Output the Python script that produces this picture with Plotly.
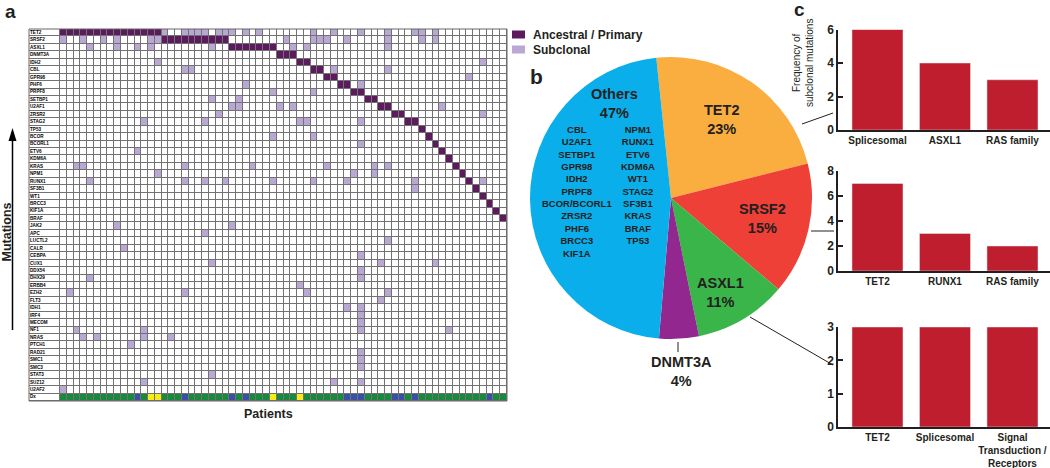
import plotly.graph_objects as go

W, H = 1050, 468
FONT = "Liberation Sans, Arial, Helvetica, sans-serif"
INK = "#231F20"


def px(x):
    return x / W


def py(y):
    return 1 - y / H


# ---------------- data ----------------
genes = ["TET2", "SRSF2", "ASXL1", "DNMT3A", "IDH2", "CBL", "GPR98", "PHF6", "PRPF8",
         "SETBP1", "U2AF1", "ZRSR2", "STAG2", "TP53", "BCOR", "BCORL1", "ETV6", "KDM6A",
         "KRAS", "NPM1", "RUNX1", "SF3B1", "WT1", "BRCC3", "KIF1A", "BRAF", "JAK2", "APC",
         "LUCTL2", "CALR", "CEBPA", "CUX1", "DDX54", "DHX29", "ERBB4", "EZH2", "FLT3",
         "IDH1", "IRF4", "MECOM", "NF1", "NRAS", "PTCH1", "RAD21", "SMC1", "SMC3",
         "STAT3", "SUZ12", "U2AF2"]

# number of patients whose ancestral (primary) lesion is each gene, in patient order
ancestral_counts = [15, 10, 7, 3, 2, 2, 2, 2, 2, 2, 2, 2, 2, 1, 1, 1, 1, 1, 1, 1, 1,
                    1, 1, 1, 1, 1] + [0] * 23

# patient indices carrying a subclonal mutation in each gene
subclonal_cols = [
    [15, 18, 19, 20, 21, 23, 24, 25, 27, 29, 37, 40, 44, 48, 52, 53, 55],  # TET2
    [0, 3, 6, 8, 13, 14, 33, 37, 38, 39, 42, 48, 53, 55],                   # SRSF2
    [4, 8, 11, 13, 22, 34, 36, 48],                                         # ASXL1
    [],                                                                     # DNMT3A
    [14, 62],                                                               # IDH2
    [18, 19, 40, 48],                                                       # CBL
    [60],                                                                   # GPR98
    [27, 44],                                                               # PHF6
    [31, 37],                                                               # PRPF8
    [22, 26],                                                               # SETBP1
    [25, 26, 32, 34, 56],                                                   # U2AF1
    [23, 62],                                                               # ZRSR2
    [12, 21, 35, 36, 44],                                                   # STAG2
    [],                                                                     # TP53
    [31, 37],                                                               # BCOR
    [44],                                                                   # BCORL1
    [11],                                                                   # ETV6
    [],                                                                     # KDM6A
    [2, 3, 18, 28, 39, 46, 48],                                             # KRAS
    [14, 43, 46],                                                           # NPM1
    [4, 18, 21, 24, 31, 37, 42, 52, 62],                                    # RUNX1
    [52],                                                                   # SF3B1
    [], [], [], [],                                                         # WT1 BRCC3 KIF1A BRAF
    [8, 25],                                                                # JAK2
    [21],                                                                   # APC
    [48],                                                                   # LUCTL2
    [9],                                                                    # CALR
    [44],                                                                   # CEBPA
    [22, 47, 55],                                                           # CUX1
    [44],                                                                   # DDX54
    [4, 44],                                                                # DHX29
    [35],                                                                   # ERBB4
    [1, 18, 36, 48],                                                        # EZH2
    [47],                                                                   # FLT3
    [42, 44],                                                               # IDH1
    [44],                                                                   # IRF4
    [44],                                                                   # MECOM
    [2, 12, 44, 57],                                                        # NF1
    [3, 5, 12, 16],                                                         # NRAS
    [10],                                                                   # PTCH1
    [44],                                                                   # RAD21
    [44],                                                                   # SMC1
    [44],                                                                   # SMC3
    [22],                                                                   # STAT3
    [12, 40, 44],                                                           # SUZ12
    [0],                                                                    # U2AF2
]

n_patients = 66
dx_blue = [11, 18, 25, 27, 42, 43, 44, 49, 50, 52, 63]
dx_yellow = [13, 14, 31, 35]

pie_labels = ["TET2", "SRSF2", "ASXL1", "DNMT3A", "Others"]
pie_pct_text = ["23%", "15%", "11%", "4%", "47%"]
others_left = ["CBL", "U2AF1", "SETBP1", "GPR98", "IDH2", "PRPF8", "BCOR/BCORL1",
               "ZRSR2", "PHF6", "BRCC3", "KIF1A"]
others_right = ["NPM1", "RUNX1", "ETV6", "KDM6A", "WT1", "STAG2", "SF3B1", "KRAS",
                "BRAF", "TP53"]

bar1_cats = ["Splicesomal", "ASXL1", "RAS family"]
bar1_vals = [6, 4, 3]
bar2_cats = ["TET2", "RUNX1", "RAS family"]
bar2_vals = [7, 3, 2]
bar3_cats = ["TET2", "Splicesomal", "Signal<br>Transduction /<br>Receptors"]
bar3_vals = [3, 3, 3]

# ---------------- build matrix ----------------
n_rows = len(genes) + 1
z = [[0] * (n_patients + 1) for _ in range(n_rows)]
col = 0
for g, cnt in enumerate(ancestral_counts):
    for _ in range(cnt):
        z[g][col + 1] = 1
        col += 1
for g, cols in enumerate(subclonal_cols):
    for c in cols:
        if z[g][c + 1] == 0:
            z[g][c + 1] = 2
for c in range(n_patients):
    v = 3
    if c in dx_blue:
        v = 4
    if c in dx_yellow:
        v = 5
    z[n_rows - 1][c + 1] = v

pie_values = ancestral_counts[:4] + [sum(ancestral_counts[4:])]

DARK = "#5E1A5F"
LIGHT = "#B9A7D4"
GREEN = "#178A3E"
BLUE = "#3A4FA6"
YELLOW = "#F7EC13"
cs = []
for i, c in enumerate(["#FFFFFF", DARK, LIGHT, GREEN, BLUE, YELLOW]):
    cs.append([i / 6, c])
    cs.append([(i + 1) / 6, c])

label_w = 4.58
x_edges = [-label_w] + list(range(n_patients + 1))

fig = go.Figure()
fig.add_trace(go.Heatmap(
    z=z, x=x_edges, y=list(range(n_rows)), colorscale=cs, zmin=-0.5, zmax=5.5,
    showscale=False, xgap=1, ygap=1, hoverinfo="skip", xaxis="x", yaxis="y"))
fig.add_trace(go.Scatter(
    x=[-label_w + 0.15] * n_rows, y=list(range(n_rows)), text=genes + ["Dx"],
    mode="text", textposition="middle right",
    textfont=dict(size=4.6, family=FONT, color="#000000", weight="bold"),
    hoverinfo="skip", showlegend=False, xaxis="x", yaxis="y"))

# ---------------- pie ----------------
fig.add_trace(go.Pie(
    labels=pie_labels, values=pie_values, sort=False, direction="clockwise",
    rotation=-6, textinfo="none", hoverinfo="skip", showlegend=False,
    marker=dict(colors=["#FBAE40", "#EE4036", "#3AB54A", "#92278F", "#0AAEEA"],
                line=dict(width=0)),
    domain=dict(x=[px(530), px(812)], y=[py(339), py(57)])))

# ---------------- bars ----------------
BAR = "#BE1E2D"
fig.add_trace(go.Bar(x=bar1_cats, y=bar1_vals, marker_color=BAR, xaxis="x2", yaxis="y2",
                     hoverinfo="skip", showlegend=False))
fig.add_trace(go.Bar(x=bar2_cats, y=bar2_vals, marker_color=BAR, xaxis="x3", yaxis="y3",
                     hoverinfo="skip", showlegend=False))
fig.add_trace(go.Bar(x=bar3_cats, y=bar3_vals, marker_color=BAR, xaxis="x4", yaxis="y4",
                     hoverinfo="skip", showlegend=False))

xr = [-0.585, 2.556]
common_x = dict(showline=True, linecolor=INK, linewidth=1.5, ticks="", showgrid=False,
                zeroline=False, range=xr, domain=[px(838), 1.0], fixedrange=True,
                tickangle=0, automargin=False,
                tickfont=dict(size=10, family=FONT, color=INK, weight="bold"))
common_y = dict(showline=True, linecolor=INK, linewidth=1.5, ticks="inside", ticklen=5,
                tickwidth=1.5, tickcolor=INK, showgrid=False, zeroline=False,
                automargin=False, fixedrange=True,
                tickfont=dict(size=12, family=FONT, color=INK, weight="bold"))

fig.update_layout(
    width=W, height=H, margin=dict(l=0, r=0, t=0, b=0, autoexpand=False),
    paper_bgcolor="white", plot_bgcolor="white", showlegend=False, bargap=0.244,
    font=dict(family=FONT, color=INK),
    xaxis=dict(domain=[px(29), px(507)], range=[-label_w, n_patients], visible=False,
               fixedrange=True, automargin=False),
    yaxis=dict(domain=[py(401), py(29)], range=[n_rows - 0.5, -0.5], visible=False,
               fixedrange=True, automargin=False),
    xaxis2=dict(anchor="y2", **common_x),
    yaxis2=dict(anchor="x2", domain=[py(130), py(29.5)], range=[0, 6],
                tickvals=[0, 2, 4, 6], **common_y),
    xaxis3=dict(anchor="y3", **common_x),
    yaxis3=dict(anchor="x3", domain=[py(271), py(171)], range=[0, 8],
                tickvals=[0, 2, 4, 6, 8], **common_y),
    xaxis4=dict(anchor="y4", **common_x),
    yaxis4=dict(anchor="x4", domain=[py(427), py(327)], range=[0, 3],
                tickvals=[0, 1, 2, 3], **common_y),
)

shapes = []
# grid background (shows through cell gaps) and outline
shapes.append(dict(type="rect", xref="paper", yref="paper", x0=px(29), x1=px(507),
                   y0=py(401), y1=py(29), fillcolor="#727272", line=dict(width=0),
                   layer="below"))
shapes.append(dict(type="rect", xref="paper", yref="paper", x0=px(29), x1=px(507),
                   y0=py(401), y1=py(29), line=dict(color="#666666", width=1)))
# mutations arrow
shapes.append(dict(type="line", xref="paper", yref="paper", x0=px(12.5), x1=px(12.5),
                   y0=py(138), y1=py(330), line=dict(color="#000000", width=1.5)))
shapes.append(dict(type="path", xref="paper", yref="paper",
                   path=f"M {px(12.5)} {py(128)} L {px(8.5)} {py(141)} L {px(16.5)} {py(141)} Z",
                   fillcolor="#000000", line=dict(width=0)))
# legend squares
shapes.append(dict(type="rect", xref="paper", yref="paper", x0=px(512), x1=px(525),
                   y0=py(38.5), y1=py(30.5), fillcolor=DARK, line=dict(width=0)))
shapes.append(dict(type="rect", xref="paper", yref="paper", x0=px(512), x1=px(525),
                   y0=py(53.5), y1=py(45.5), fillcolor=LIGHT, line=dict(width=0)))
# DNMT3A tick
shapes.append(dict(type="line", xref="paper", yref="paper", x0=px(678), x1=px(678),
                   y0=py(342), y1=py(352), line=dict(color=INK, width=1)))
# connectors
for (x0, y0, x1, y1) in [(802, 124, 833, 113), (811, 231, 834, 231), (750, 317, 833, 365)]:
    shapes.append(dict(type="line", xref="paper", yref="paper", x0=px(x0), y0=py(y0),
                       x1=px(x1), y1=py(y1), line=dict(color=INK, width=1)))
fig.update_layout(shapes=shapes)

ann = []


def add_text(text, x, y, size, bold=True, xanchor="center", yanchor="middle", angle=0,
             align="center"):
    ann.append(dict(text=text, x=px(x), y=py(y), xref="paper", yref="paper",
                    showarrow=False, xanchor=xanchor, yanchor=yanchor, textangle=angle,
                    align=align,
                    font=dict(size=size, family=FONT, color=INK,
                              weight="bold" if bold else "normal")))


add_text("a", 10, 11, 19)
add_text("b", 536, 77, 21)
add_text("c", 799, 9, 19)
add_text("Patients", 268, 414, 12.5)
add_text("Mutations", 6.5, 232, 12.5, angle=-90)
add_text("Ancestral / Primary", 531, 35, 12, xanchor="left")
add_text("Subclonal", 531, 50, 12, xanchor="left")

pie_pos = [(721, 119), (762, 218.5), (720, 292), (681, 371), (614, 103)]
for lab, pct, (x, y) in zip(pie_labels, pie_pct_text, pie_pos):
    add_text(f"{lab}<br>{pct}", x, y, 14.5)
add_text("<br>".join(others_left), 577, 191, 9.5)
add_text("<br>".join(others_right), 638, 185, 9.5)

add_text("Frequency of<br>subclonal mutations", 803, 63, 10, bold=False, angle=-90)

fig.update_layout(annotations=ann)
fig.write_html("out.html", config={"displayModeBar": False},
               post_script="document.body.style.margin='0';document.body.style.padding='0';"
                           "document.body.style.overflow='hidden';")
